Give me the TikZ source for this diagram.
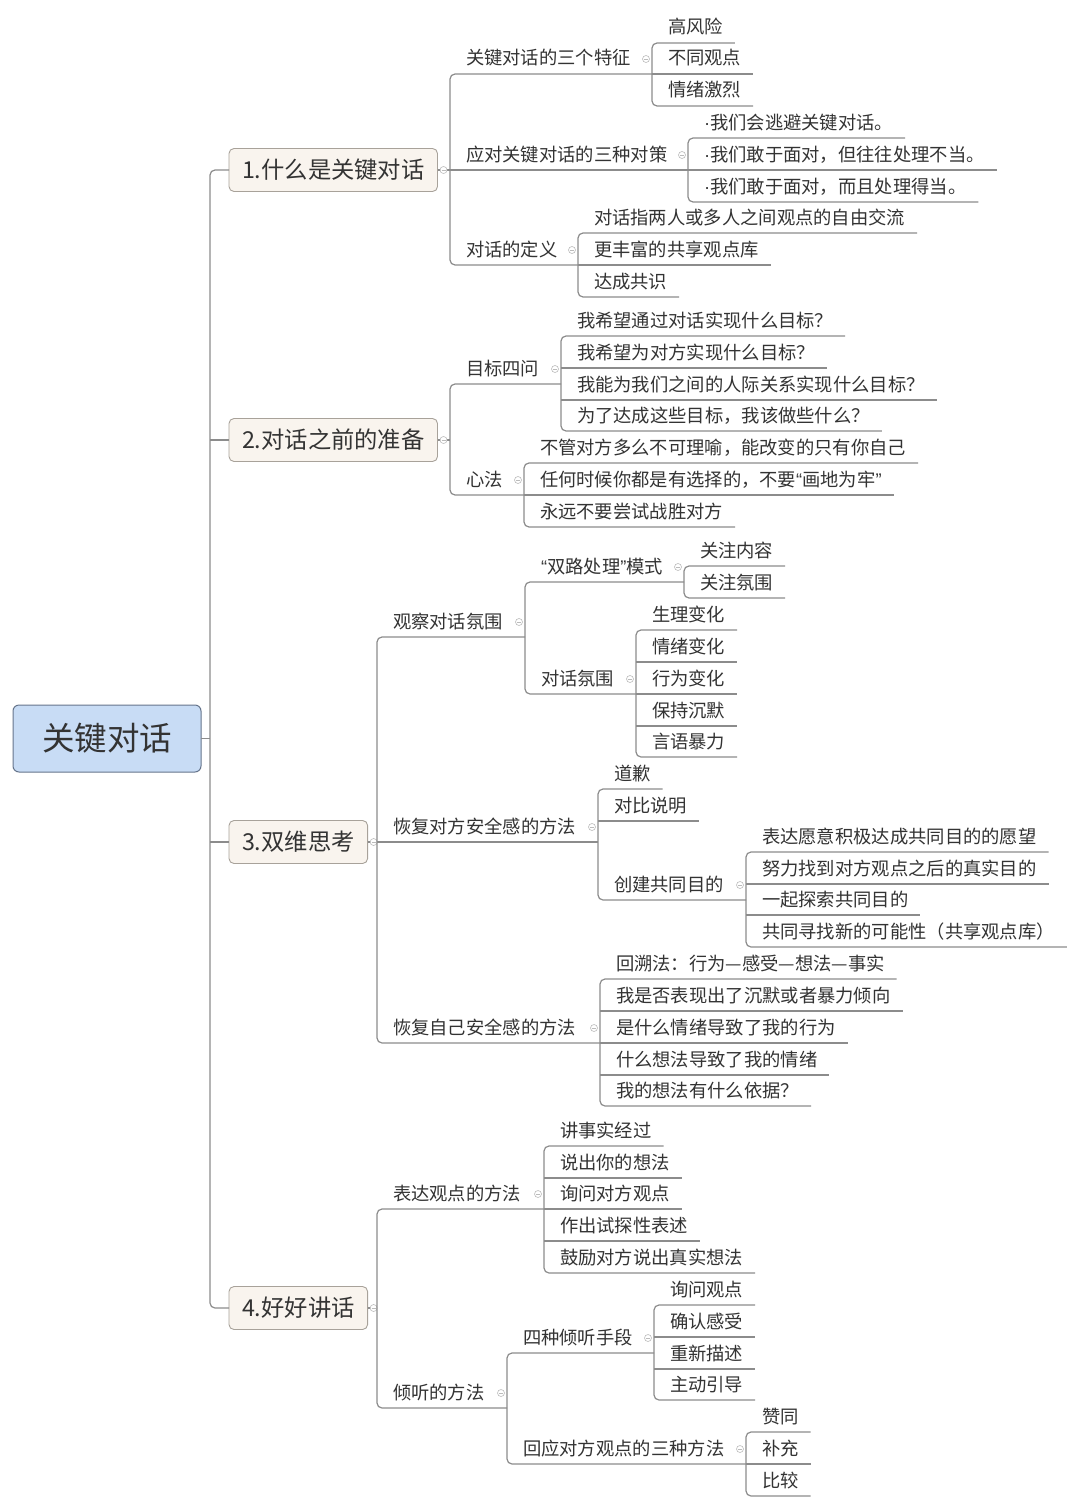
\documentclass[tikz,border=0pt]{standalone}
\usepackage{fontspec}
\newfontfamily\cjk{Noto Sans CJK SC}
\newfontfamily\latin{Liberation Sans}
\usetikzlibrary{calc}

\definecolor{txt}{HTML}{333333}
\definecolor{wire}{HTML}{8C8C8C}
\definecolor{foldc}{HTML}{BBBBBB}
\definecolor{mainfill}{HTML}{C8DCF5}
\definecolor{maindraw}{HTML}{66758C}
\definecolor{majfill}{HTML}{F9F4EE}
\definecolor{majdraw}{HTML}{A8A29A}

% narrow punctuation set in a Latin face
\newcommand\openq{{\latin “}}
\newcommand\closeq{{\latin ”}}
\newcommand\dotmark{{\latin ·}}

\tikzset{
  conn/.style={draw=wire, line width=1.2pt, rounded corners=5pt},
  topic/.style={anchor=south west, inner sep=0pt, outer sep=0pt,
    text height=15pt, text depth=9pt, text=txt,
    font=\cjk\fontsize{18.3}{20}\selectfont,
    execute at begin node={\kern16pt}, execute at end node={\kern12pt}},
  major/.style={anchor=west, draw=majdraw, fill=majfill, rounded corners=5pt,
    line width=0.9pt, inner xsep=13pt, inner ysep=0pt, outer sep=0pt,
    minimum height=43pt, text height=19.5pt, text depth=1.6pt, text=txt,
    font=\cjk\fontsize{23.3}{26}\selectfont},
  central/.style={draw=maindraw, fill=mainfill, rounded corners=6pt,
    line width=1pt, minimum width=188pt, minimum height=67pt, inner sep=0pt,
    outer sep=0pt, text height=27pt, text depth=2.3pt, text=txt,
    font=\cjk\fontsize{32.5}{36}\selectfont},
  fold/.style={circle, draw=foldc, line width=0.6pt, minimum size=7pt,
    inner sep=0pt, fill=white,
    path picture={\draw[foldc, line width=0.6pt]
      ([xshift=-2pt]path picture bounding box.center) --
      ([xshift=2pt]path picture bounding box.center);}},
}

% a topic: name, trunk x, underline y, text
\newcommand\topicat[4]{%
  \node[topic] (#1) at (#2,#3) {#4};
  \coordinate (#1-e) at (#1.south east);}
% a topic with children: its underline runs on to the children's trunk
\newcommand\parentof[2]{%
  \coordinate (#1-e) at (#1.south -| #2.west);
  \node[fold] at ([xshift=-6pt,yshift=15pt]#1-e) {};}
% trunk with first and last child, plus the children in between
\newcommand\branchout[3]{%
  \draw[conn] (#1-e) -- (#1.south west) -- (#2.south west) -- (#2-e);
  \foreach \m in {#3} {\draw[conn] (\m.south west) -- (\m-e);}}
\newcommand\branchtwo[2]{%
  \draw[conn] (#1-e) -- (#1.south west) -- (#2.south west) -- (#2-e);}

\begin{document}
\begin{tikzpicture}[x=1pt, y=-1pt]
\useasboundingbox (0,0) rectangle (1080,1509);
\fill[white] (0,0) rectangle (1080,1509);

\coordinate (t0) at (210,0);

% central topic and the four main topics
\node[central] (root) at (107,738.5) {关键对话};
\node[major] (n1) at (229,170) {1.什么是关键对话};
\node[major] (n2) at (229,440) {2.对话之前的准备};
\node[major] (n3) at (229,842) {3.双维思考};
\node[major] (n4) at (229,1308) {4.好好讲话};

% ---- 1 ----
\topicat{a1}{450}{74}{关键对话的三个特征}
\topicat{a1a}{652}{43}{高风险}
\topicat{a1b}{652}{74}{不同观点}
\topicat{a1c}{652}{106}{情绪激烈}
\topicat{a2}{450}{170}{应对关键对话的三种对策}
\topicat{a2a}{688}{138}{\dotmark 我们会逃避关键对话。}
\topicat{a2b}{688}{170}{\dotmark 我们敢于面对，但往往处理不当。}
\topicat{a2c}{688}{202}{\dotmark 我们敢于面对，而且处理得当。}
\topicat{a3}{450}{265}{对话的定义}
\topicat{a3a}{578}{233}{对话指两人或多人之间观点的自由交流}
\topicat{a3b}{578}{265}{更丰富的共享观点库}
\topicat{a3c}{578}{297}{达成共识}

% ---- 2 ----
\topicat{b1}{450}{384}{目标四问}
\topicat{b1a}{561}{336}{我希望通过对话实现什么目标？}
\topicat{b1b}{561}{368}{我希望为对方实现什么目标？}
\topicat{b1c}{561}{400}{我能为我们之间的人际关系实现什么目标？}
\topicat{b1d}{561}{431}{为了达成这些目标，我该做些什么？}
\topicat{b2}{450}{495}{心法}
\topicat{b2a}{524}{463}{不管对方多么不可理喻，能改变的只有你自己}
\topicat{b2b}{524}{495}{任何时候你都是有选择的，不要\openq 画地为牢\closeq}
\topicat{b2c}{524}{527}{永远不要尝试战胜对方}

% ---- 3 ----
\topicat{c1}{377}{637}{观察对话氛围}
\topicat{c1a}{525}{582}{\openq 双路处理\closeq 模式}
\topicat{c1a1}{684}{566}{关注内容}
\topicat{c1a2}{684}{598}{关注氛围}
\topicat{c1b}{525}{694}{对话氛围}
\topicat{c1b1}{636}{630}{生理变化}
\topicat{c1b2}{636}{662}{情绪变化}
\topicat{c1b3}{636}{694}{行为变化}
\topicat{c1b4}{636}{726}{保持沉默}
\topicat{c1b5}{636}{757}{言语暴力}
\topicat{c2}{377}{842}{恢复对方安全感的方法}
\topicat{c2a}{598}{789}{道歉}
\topicat{c2b}{598}{821}{对比说明}
\topicat{c2c}{598}{900}{创建共同目的}
\topicat{c2c1}{746}{852}{表达愿意积极达成共同目的的愿望}
\topicat{c2c2}{746}{884}{努力找到对方观点之后的真实目的}
\topicat{c2c3}{746}{915}{一起探索共同目的}
\topicat{c2c4}{746}{947}{共同寻找新的可能性（共享观点库）}
\topicat{c3}{377}{1043}{恢复自己安全感的方法}
\topicat{c3a}{600}{979}{回溯法：行为—感受—想法—事实}
\topicat{c3b}{600}{1011}{我是否表现出了沉默或者暴力倾向}
\topicat{c3c}{600}{1043}{是什么情绪导致了我的行为}
\topicat{c3d}{600}{1075}{什么想法导致了我的情绪}
\topicat{c3e}{600}{1106}{我的想法有什么依据？}

% ---- 4 ----
\topicat{d1}{377}{1209}{表达观点的方法}
\topicat{d1a}{544}{1146}{讲事实经过}
\topicat{d1b}{544}{1178}{说出你的想法}
\topicat{d1c}{544}{1209}{询问对方观点}
\topicat{d1d}{544}{1241}{作出试探性表述}
\topicat{d1e}{544}{1273}{鼓励对方说出真实想法}
\topicat{d2}{377}{1408}{倾听的方法}
\topicat{d2a}{507}{1353}{四种倾听手段}
\topicat{d2a1}{654}{1305}{询问观点}
\topicat{d2a2}{654}{1337}{确认感受}
\topicat{d2a3}{654}{1369}{重新描述}
\topicat{d2a4}{654}{1400}{主动引导}
\topicat{d2b}{507}{1464}{回应对方观点的三种方法}
\topicat{d2b1}{746}{1432}{赞同}
\topicat{d2b2}{746}{1464}{补充}
\topicat{d2b3}{746}{1496}{比较}

% underline ends of topics that have children
\parentof{a1}{a1a}
\parentof{a2}{a2a}
\parentof{a3}{a3a}
\parentof{b1}{b1a}
\parentof{b2}{b2a}
\parentof{c1}{c1a}
\parentof{c1a}{c1a1}
\parentof{c1b}{c1b1}
\parentof{c2}{c2a}
\parentof{c2c}{c2c1}
\parentof{c3}{c3a}
\parentof{d1}{d1a}
\parentof{d2}{d2a}
\parentof{d2a}{d2a1}
\parentof{d2b}{d2b1}

% main trunk
\draw[conn] (n1.west) -- (n1.west -| t0) -- (n4.west -| t0) -- (n4.west);
\draw[conn] (n2.west) -- (n2.west -| t0);
\draw[conn] (n3.west) -- (n3.west -| t0);
\draw[conn] (root.east) -- (root.east -| t0);

% main topics to their children
\draw[conn] (n1.east) -- (n1.east -| a1.west);
\draw[conn] (n2.east) -- (n2.east -| b1.west);
\draw[conn] (n3.east) -- (n3.east -| c1.west);
\draw[conn] (n4.east) -- (n4.east -| d1.west);
\foreach \n in {n1,n2,n3,n4} {\node[fold] at ([xshift=6pt]\n.east) {};}

% branches
\branchout{a1}{a3}{a2}
\branchout{a1a}{a1c}{a1b}
\branchout{a2a}{a2c}{a2b}
\branchout{a3a}{a3c}{a3b}
\branchtwo{b1}{b2}
\branchout{b1a}{b1d}{b1b,b1c}
\branchout{b2a}{b2c}{b2b}
\branchout{c1}{c3}{c2}
\branchtwo{c1a}{c1b}
\branchtwo{c1a1}{c1a2}
\branchout{c1b1}{c1b5}{c1b2,c1b3,c1b4}
\branchout{c2a}{c2c}{c2b}
\branchout{c2c1}{c2c4}{c2c2,c2c3}
\branchout{c3a}{c3e}{c3b,c3c,c3d}
\branchtwo{d1}{d2}
\branchout{d1a}{d1e}{d1b,d1c,d1d}
\branchtwo{d2a}{d2b}
\branchout{d2a1}{d2a4}{d2a2,d2a3}
\branchout{d2b1}{d2b3}{d2b2}
\end{tikzpicture}
\end{document}
